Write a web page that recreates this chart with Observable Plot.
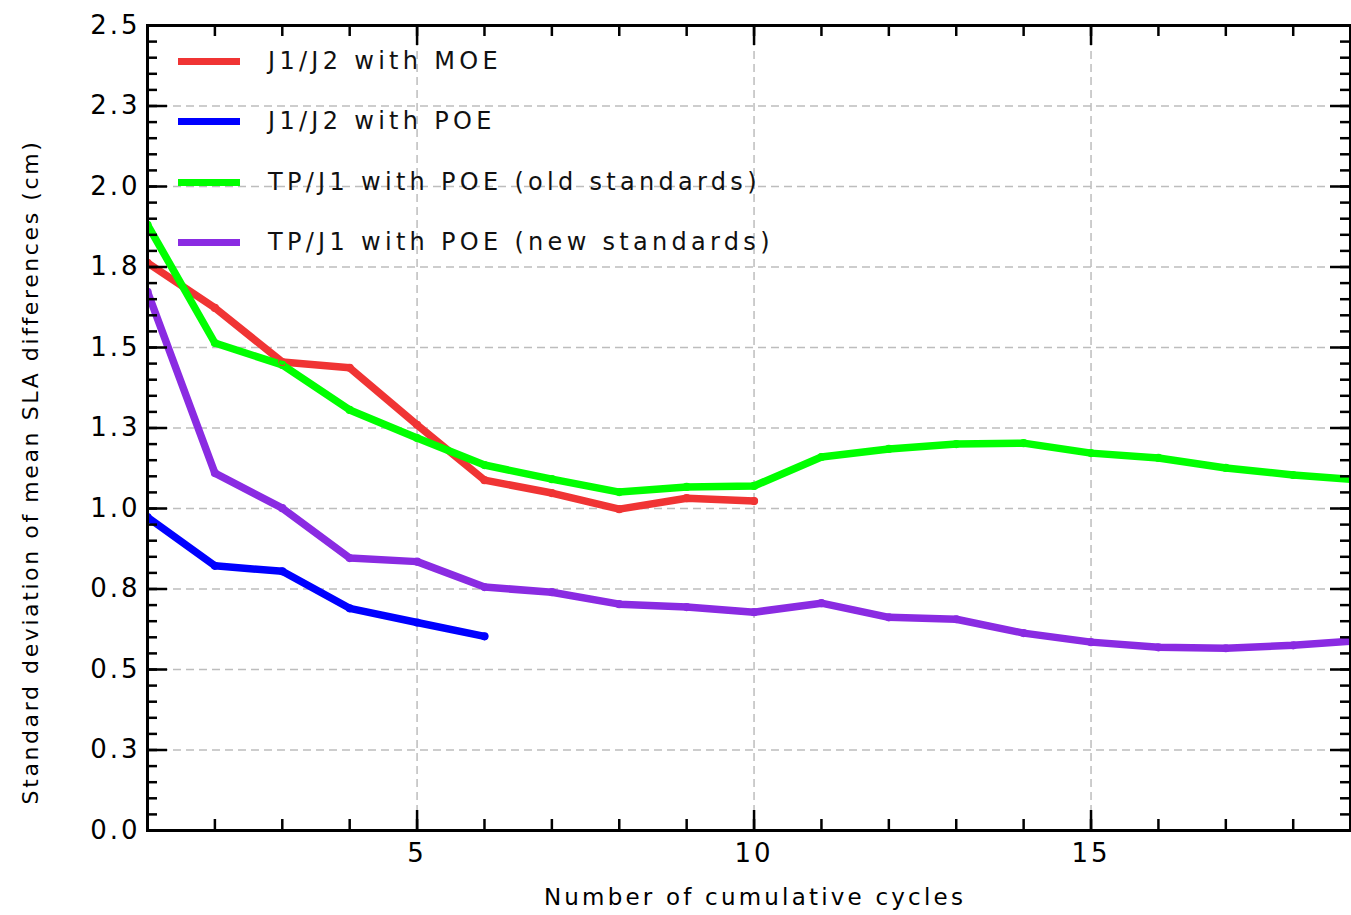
<!DOCTYPE html>
<html>
<head>
<meta charset="utf-8">
<script src="https://cdn.jsdelivr.net/npm/d3@7"></script>
<script src="https://cdn.jsdelivr.net/npm/@observablehq/plot@0.6"></script>
<style>
  html, body { margin: 0; padding: 0; background: #fff; }
  #wrap { position: relative; width: 1351px; height: 915px; font-family: "DejaVu Sans", sans-serif; }
  .legend-row { position: absolute; left: 178px; height: 30px; display: flex; align-items: center; }
  .legend-row .sw { width: 62px; height: 7px; }
  .legend-row .lb { margin-left: 28px; font-size: 24px; letter-spacing: 4.3px; color: #111; white-space: nowrap; line-height: 30px; }
</style>
</head>
<body>
<div id="wrap"></div>
<script>
// ---- data ----
const cycles = [1, 2, 3, 4, 5, 6, 7, 8, 9, 10, 11, 12, 13, 14, 15, 16, 17, 18, 19];
const j1j2Moe = [1.763, 1.623, 1.455, 1.437, 1.26, 1.088, 1.048, 0.998, 1.032, 1.023];
const j1j2Poe = [0.973, 0.822, 0.805, 0.690, 0.646, 0.603];
const tpj1Old = [1.881, 1.514, 1.446, 1.306, 1.219, 1.135, 1.091, 1.051, 1.067, 1.070, 1.160, 1.185, 1.200, 1.203, 1.172, 1.157, 1.126, 1.104, 1.088];
const tpj1New = [1.673, 1.110, 1.001, 0.846, 0.835, 0.756, 0.740, 0.703, 0.694, 0.678, 0.706, 0.662, 0.656, 0.613, 0.585, 0.569, 0.566, 0.575, 0.590];

const seriesNames = ["J1/J2 with MOE", "J1/J2 with POE", "TP/J1 with POE (old standards)", "TP/J1 with POE (new standards)"];
const seriesValues = [j1j2Moe, j1j2Poe, tpj1Old, tpj1New];
const seriesColors = ["#f03434", "#0000ff", "#00ff00", "#8a2be2"];

const xMajorTicks = [5, 10, 15];
const xMajorLabels = ["5", "10", "15"];
const yMajorTicks = [0, 0.25, 0.5, 0.75, 1.0, 1.25, 1.5, 1.75, 2.0, 2.25, 2.5];
const yMajorLabels = ["0.0", "0.3", "0.5", "0.8", "1.0", "1.3", "1.5", "1.8", "2.0", "2.3", "2.5"];
const xMinorTicks = d3.range(1, 19, 1);
const yMinorTicks = d3.range(0, 2.5001, 0.05).map(v => +v.toFixed(2));
const xGrid = [5, 10, 15];
const yGrid = [0.25, 0.5, 0.75, 1.0, 1.25, 1.5, 1.75, 2.0, 2.25];

const xLabel = "Number of cumulative cycles";
const yLabel = "Standard deviation of mean SLA differences (cm)";

// ---- table ----
const rows = [];
seriesValues.forEach((vals, s) => vals.forEach((v, i) => rows.push({series: seriesNames[s], cycle: cycles[i], value: v})));

const W = 1351, H = 915;
const mL = 147, mR = 1, mT = 25, mB = 85;
const innerW = W - mL - mR, innerH = H - mT - mB;

const plot = Plot.plot({
  width: W,
  height: H,
  marginLeft: mL,
  marginRight: mR,
  marginTop: mT,
  marginBottom: mB,
  style: {fontFamily: "DejaVu Sans, sans-serif", background: "white", overflow: "visible"},
  x: {domain: [1, 18.85]},
  y: {domain: [0, 2.5]},
  color: {domain: seriesNames, range: seriesColors},
  marks: [
    Plot.ruleY(yGrid, {stroke: "#bdbdbd", strokeWidth: 1.5, strokeDasharray: "8,5"}),
    Plot.ruleX(xGrid, {stroke: "#bdbdbd", strokeWidth: 1.5, strokeDasharray: "8,5"}),
    Plot.line(rows, {x: "cycle", y: "value", z: "series", stroke: "series", strokeWidth: 7.5, clip: true, strokeLinejoin: "round"}),
    Plot.dot(rows, {x: "cycle", y: "value", stroke: "series", r: 3.5, strokeWidth: 1.2, fill: "none", clip: true}),
    // minor/major ticks (inward) on all four sides
    Plot.tickX(xMinorTicks, {x: d => d, stroke: "black", strokeWidth: 2.5, insetTop: innerH - 11}),
    Plot.tickX(xMinorTicks, {x: d => d, stroke: "black", strokeWidth: 2.5, insetBottom: innerH - 11}),
    Plot.tickX(xMajorTicks, {x: d => d, stroke: "black", strokeWidth: 2.5, insetTop: innerH - 20}),
    Plot.tickX(xMajorTicks, {x: d => d, stroke: "black", strokeWidth: 2.5, insetBottom: innerH - 20}),
    Plot.tickY(yMinorTicks, {y: d => d, stroke: "black", strokeWidth: 2.5, insetRight: innerW - 10}),
    Plot.tickY(yMinorTicks, {y: d => d, stroke: "black", strokeWidth: 2.5, insetLeft: innerW - 10}),
    Plot.tickY(yMajorTicks, {y: d => d, stroke: "black", strokeWidth: 2.5, insetRight: innerW - 20}),
    Plot.tickY(yMajorTicks, {y: d => d, stroke: "black", strokeWidth: 2.5, insetLeft: innerW - 20}),
    Plot.frame({stroke: "black", strokeWidth: 3}),
    Plot.axisX({ticks: xMajorTicks, tickFormat: d => xMajorLabels[xMajorTicks.indexOf(d)], tickSize: 0, tickPadding: 13, fontSize: 26, label: null}),
    Plot.axisY({ticks: yMajorTicks, tickFormat: d => yMajorLabels[yMajorTicks.indexOf(d)], tickSize: 0, tickPadding: 7, fontSize: 26, label: null}),
    Plot.text([xLabel], {frameAnchor: "bottom", dx: 6, dy: 67, fontSize: 23, lineAnchor: "middle", textAnchor: "middle"}),
    Plot.text([yLabel], {frameAnchor: "left", rotate: -90, dx: -117, dy: 44, fontSize: 22, lineAnchor: "middle", textAnchor: "middle"})
  ]
});

d3.select(plot).selectAll('g[aria-label="y-axis tick label"] text, g[aria-label="x-axis tick label"] text').style("letter-spacing", "3px");
d3.select(plot).selectAll('g[aria-label="text"] text').each(function(d, i) {
  d3.select(this).style("letter-spacing", this.textContent === xLabel ? "3.2px" : "2.6px");
});

const wrap = document.getElementById("wrap");
wrap.appendChild(plot);

// legend overlay
const legendCenters = [61, 121, 182, 242];
seriesNames.forEach((name, i) => {
  const row = document.createElement("div");
  row.className = "legend-row";
  row.style.top = (legendCenters[i] - 15) + "px";
  const sw = document.createElement("div");
  sw.className = "sw";
  sw.style.background = seriesColors[i];
  const lb = document.createElement("div");
  lb.className = "lb";
  lb.textContent = name;
  row.appendChild(sw);
  row.appendChild(lb);
  wrap.appendChild(row);
});
</script>
</body>
</html>
